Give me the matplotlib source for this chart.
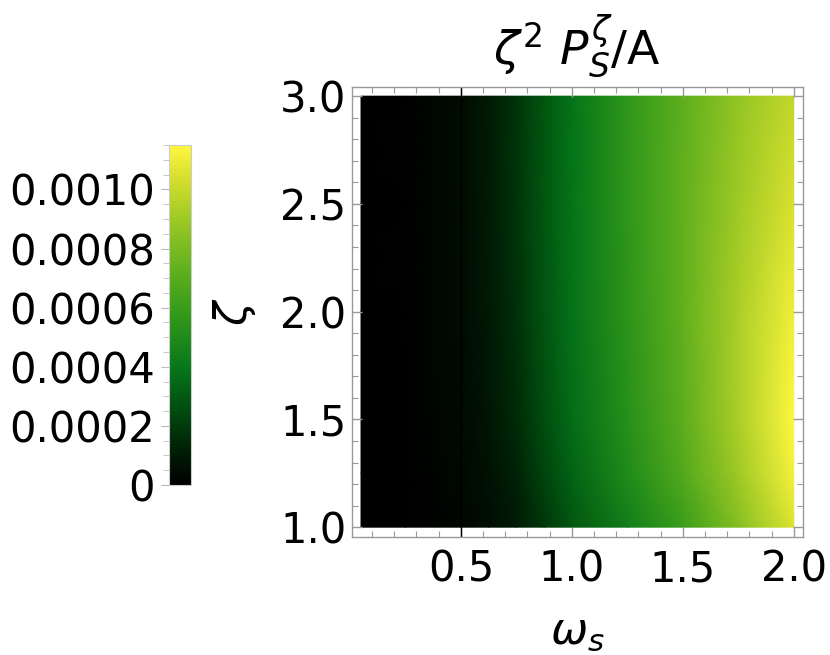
import numpy as np
import matplotlib
matplotlib.use("Agg")
import matplotlib.pyplot as plt
from matplotlib.colors import LinearSegmentedColormap
from matplotlib.ticker import MultipleLocator, FixedLocator

plt.rcParams["font.family"] = ["DejaVu Sans"]
plt.rcParams["mathtext.fontset"] = "dejavusans"

# grid, values in units of 1e-4
omega = [0.05, 0.25, 0.5, 0.625, 0.75, 0.875, 1.0, 1.25, 1.5, 1.75, 2.0]
zeta = [1.0, 1.25, 1.5, 2.0, 2.5, 3.0]
p_zeta_1_00 = [0.0, 0.02, 0.25, 0.55, 1.0, 1.9, 2.9, 4.4, 6.0, 8.3, 10.6]
p_zeta_1_25 = [0.0, 0.03, 0.33, 0.7, 1.3, 2.3, 3.3, 5.0, 6.8, 9.0, 11.2]
p_zeta_1_50 = [0.0, 0.04, 0.4, 0.85, 1.5, 2.6, 3.6, 5.3, 7.1, 9.3, 11.5]
p_zeta_2_00 = [0.0, 0.05, 0.45, 0.95, 1.7, 2.8, 3.8, 5.5, 7.3, 9.3, 11.1]
p_zeta_2_50 = [0.0, 0.05, 0.5, 1.0, 1.8, 2.9, 3.9, 5.6, 7.3, 9.0, 10.5]
p_zeta_3_00 = [0.0, 0.05, 0.5, 1.0, 1.8, 2.9, 3.9, 5.6, 7.2, 8.7, 9.9]

cbar_ticks = [0, 0.0002, 0.0004, 0.0006, 0.0008, 0.0010]
cbar_labels = ["0", "0.0002", "0.0004", "0.0006", "0.0008", "0.0010"]
vmax = 0.00115

values = np.array([p_zeta_1_00, p_zeta_1_25, p_zeta_1_50,
                   p_zeta_2_00, p_zeta_2_50, p_zeta_3_00]) * 1e-4

# black -> green -> yellow, like the Mathematica gradient
cmap = LinearSegmentedColormap.from_list("bgy", [
    (0.00, (0.00, 0.00, 0.00)),
    (0.10, (0.00, 0.12, 0.02)),
    (0.20, (0.00, 0.27, 0.05)),
    (0.34, (0.02, 0.46, 0.10)),
    (0.50, (0.20, 0.60, 0.10)),
    (0.65, (0.40, 0.70, 0.12)),
    (0.80, (0.65, 0.80, 0.15)),
    (0.90, (0.83, 0.87, 0.18)),
    (1.00, (1.00, 0.97, 0.25)),
])

fs = 30
gray = "#999999"

fig = plt.figure(figsize=(8.3, 6.55), dpi=100)
ax = fig.add_axes([0.424, 0.180, 0.543, 0.687])

W, Z = np.meshgrid(omega, zeta)
mesh = ax.pcolormesh(W, Z, values, cmap=cmap, vmin=0, vmax=vmax,
                     shading="gouraud", rasterized=True)
ax.axvline(0.5, color="black", lw=1.0)

ax.set_xlim(0.009, 2.04)
ax.set_ylim(0.954, 3.042)

ax.xaxis.set_major_locator(FixedLocator([0.5, 1.0, 1.5, 2.0]))
ax.xaxis.set_minor_locator(MultipleLocator(0.1))
ax.yaxis.set_major_locator(MultipleLocator(0.5))
ax.yaxis.set_minor_locator(MultipleLocator(0.1))
ax.xaxis.set_major_formatter(lambda v, p: f"{v:.1f}")
ax.yaxis.set_major_formatter(lambda v, p: f"{v:.1f}")

ax.tick_params(which="both", direction="in", top=True, right=True,
               color=gray, labelsize=fs)
ax.tick_params(which="major", length=7, width=1)
ax.tick_params(which="minor", length=4, width=0.8)
ax.tick_params(axis="x", pad=8)
ax.tick_params(axis="y", pad=4)
for s in ax.spines.values():
    s.set_color(gray)
    s.set_linewidth(1)

ax.set_xlabel(r"$\omega_s$", fontsize=32, labelpad=14)
ax.set_ylabel(r"$\zeta$", fontsize=32, labelpad=16)
ax.set_title(r"$\zeta^2\ P_S^{\zeta}/\mathrm{A}$", fontsize=34, pad=16)

# legend bar on the left
cax = fig.add_axes([0.2036, 0.2595, 0.0265, 0.519])
cb = fig.colorbar(mesh, cax=cax)
cb.outline.set_edgecolor("#cccccc")
cb.outline.set_linewidth(0.8)
cax.yaxis.set_ticks_position("left")
cax.yaxis.set_label_position("left")
cb.set_ticks(cbar_ticks)
cb.set_ticklabels(cbar_labels)
cax.yaxis.set_minor_locator(MultipleLocator(0.00005))
cax.tick_params(which="both", direction="out", color="#bbbbbb", labelsize=fs)
cax.tick_params(which="major", length=6, pad=4)
cax.tick_params(which="minor", length=4)

fig.savefig("out.png", dpi=100)
